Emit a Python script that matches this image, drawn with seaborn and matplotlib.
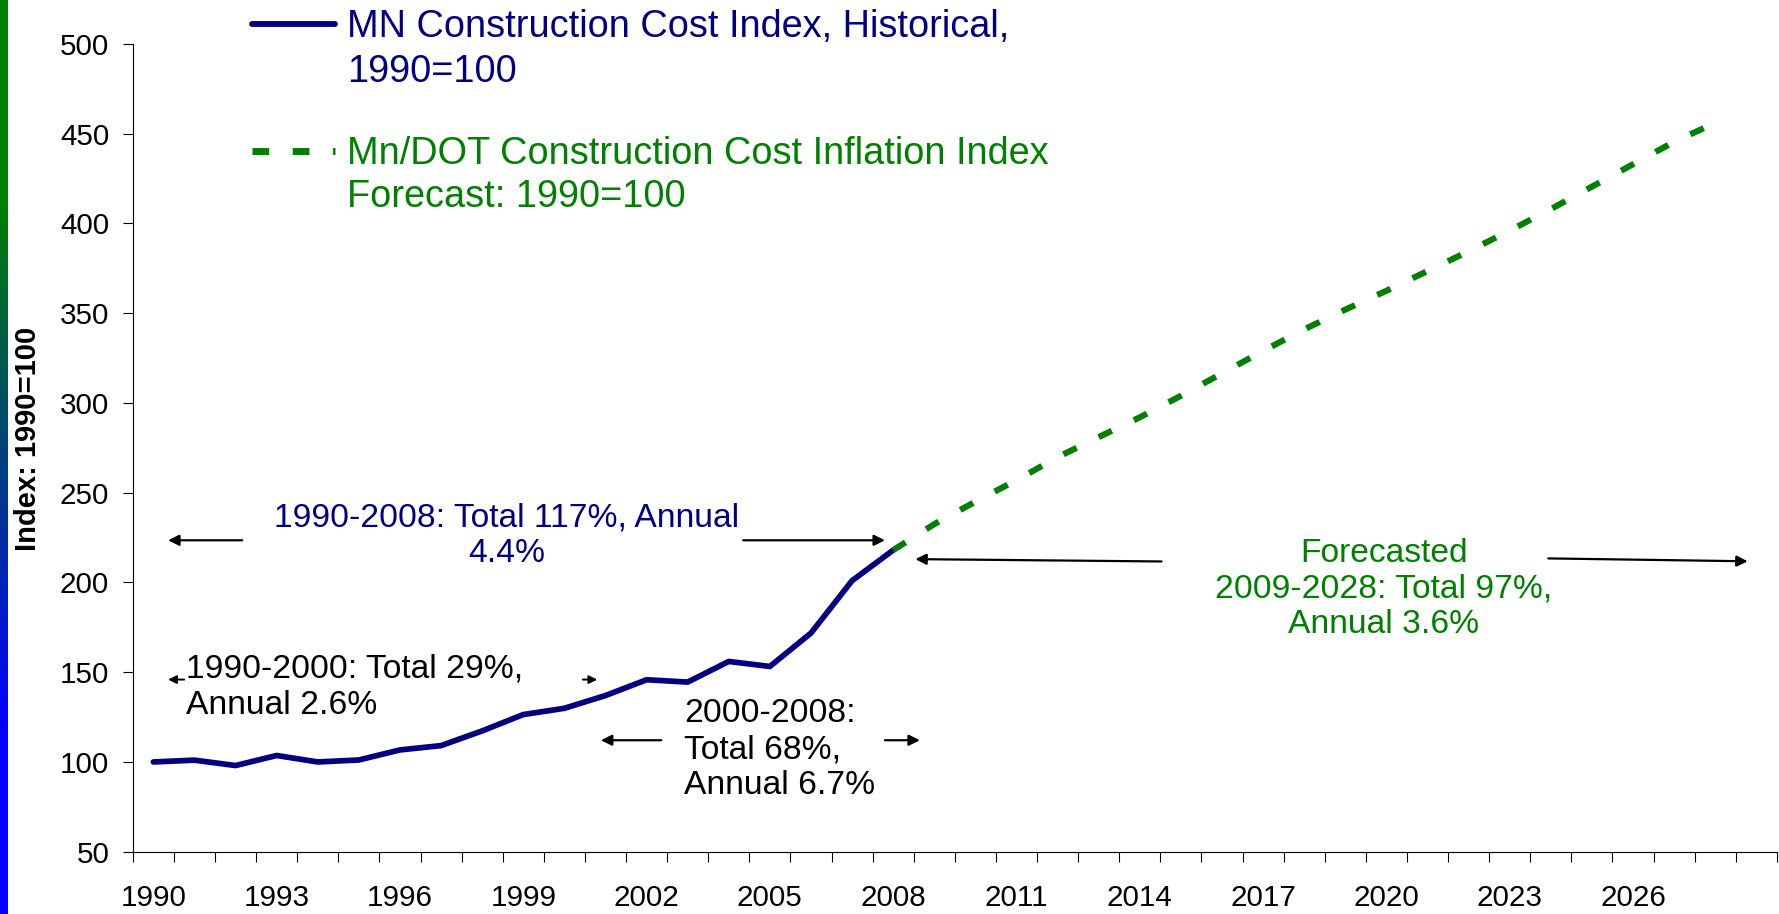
import numpy as np
import pandas as pd
import matplotlib
matplotlib.use("Agg")
import matplotlib.pyplot as plt
import seaborn as sns

# historical MN construction cost index (1990=100)
hist_years = list(range(1990, 2009))
hist_values = [100, 101, 98, 103.6, 100, 101.1, 106.7, 109.1, 117.3, 126.4,
               129.9, 137, 145.8, 144.5, 156, 153.2, 171.8, 201, 218]

# Mn/DOT forecast (1990=100)
fc_years = list(range(2008, 2029))
fc_values = [218, 232.5, 245, 257, 269.8, 281, 292, 304, 316.5, 329, 341,
             352, 362.5, 373.5, 384.5, 396, 408, 420.5, 433, 445.5, 456]

label_years = list(range(1990, 2027, 3))
y_ticks = list(range(50, 501, 50))

navy = "#000080"
green = "#008000"

sns.set_style("white")
plt.rcParams["font.family"] = ["Liberation Sans", "DejaVu Sans"]
plt.rcParams.update({"text.color": "black", "axes.labelcolor": "black",
                     "xtick.color": "black", "ytick.color": "black"})

W, H = 1779, 914
fig = plt.figure(figsize=(W / 100, H / 100), dpi=100)
ax = fig.add_axes([132.8 / W, 62.3 / H, 1644 / W, 807.7 / H])

hist = pd.DataFrame({"year": hist_years, "index": hist_values})
fc = pd.DataFrame({"year": fc_years, "index": fc_values})

sns.lineplot(data=hist, x="year", y="index", color=navy, lw=4.1, ax=ax,
             solid_joinstyle="round", solid_capstyle="round")
sns.lineplot(data=fc, x="year", y="index", color=green, lw=4.4, ax=ax)
ax.lines[-1].set_linestyle((0, (2.4, 4.0)))
ax.lines[-1].set_dash_capstyle("butt")

ax.set_xlim(1989.5, 2029.5)
ax.set_ylim(50, 500)
ax.set_yticks(y_ticks)
ax.set_xticks(np.arange(1989.5, 2030, 1.0))
ax.set_xticklabels([])
ax.set_xticks(label_years, minor=True)
ax.set_xticklabels([str(y) for y in label_years], minor=True)
ax.tick_params(axis="x", which="major", direction="out", length=7, width=0.8,
               color="black", bottom=True)
ax.tick_params(axis="x", which="minor", length=0, pad=23, labelsize=21.3)
ax.tick_params(axis="y", direction="out", length=7, width=0.8, color="black",
               left=True, pad=10, labelsize=21.3)
for s in ["top", "right"]:
    ax.spines[s].set_visible(False)
for s in ["left", "bottom"]:
    ax.spines[s].set_color("black")
    ax.spines[s].set_linewidth(0.8)
ax.set_xlabel("")
ax.set_ylabel("Index: 1990=100", fontsize=21, fontweight="bold", va="center",
              color="black")
ax.yaxis.set_label_coords(-0.0637, 0.511)

fs = 24.2
arrow = dict(arrowstyle="-|>", color="black", lw=1.6, mutation_scale=16,
             shrinkA=0, shrinkB=0)

# 1990-2008 span
ax.text(1998.6, 226.1, "1990-2008: Total 117%, Annual\n4.4%", color=navy,
        fontsize=fs, ha="center", va="center", multialignment="center")
ax.annotate("", xy=(1990.36, 223.5), xytext=(1992.16, 223.5), arrowprops=arrow)
ax.annotate("", xy=(2007.8, 223.5), xytext=(2004.35, 223.5), arrowprops=arrow)

# forecast span
ax.text(2019.94, 196.3, "Forecasted\n2009-2028: Total 97%,\nAnnual 3.6%",
        color=green, fontsize=fs, ha="center", va="center",
        multialignment="center")
ax.annotate("", xy=(2008.54, 213), xytext=(2014.53, 211.7), arrowprops=arrow)
ax.annotate("", xy=(2028.79, 211.8), xytext=(2023.94, 213.4),
            arrowprops=arrow, annotation_clip=False)

# 1990-2000 span
small = dict(arrowstyle="-|>", color="black", lw=1.4, mutation_scale=12,
             shrinkA=0, shrinkB=0)
ax.text(1990.8, 141.7, "1990-2000: Total 29%,\nAnnual 2.6%", color="black",
        fontsize=fs, ha="left", va="center")
ax.annotate("", xy=(1990.36, 145.9), xytext=(1990.75, 145.9), arrowprops=small)
ax.annotate("", xy=(2000.8, 145.9), xytext=(2000.45, 145.9), arrowprops=small)

# 2000-2008 span
ax.text(2002.92, 106.9, "2000-2008:\nTotal 68%,\nAnnual 6.7%", color="black",
        fontsize=fs, ha="left", va="center")
ax.annotate("", xy=(2000.89, 112.1), xytext=(2002.36, 112.1), arrowprops=arrow)
ax.annotate("", xy=(2008.65, 112.1), xytext=(2007.8, 112.1), arrowprops=arrow)

# legend drawn at top
lfs = 27.3
ax.plot([1992.41, 1994.43], [511.4, 511.4], color=navy, lw=4.2,
        solid_capstyle="round", clip_on=False)
ax.text(1994.72, 504.0, "MN Construction Cost Index, Historical,",
        color=navy, fontsize=lfs, ha="left", va="baseline")
ax.text(1994.72, 478.9, "1990=100",
        color=navy, fontsize=lfs, ha="left", va="baseline")
gl, = ax.plot([1992.41, 1994.43], [440.6, 440.6], color=green, lw=5,
              clip_on=False)
gl.set_linestyle((0, (2.4, 3.4)))
gl.set_dash_capstyle("butt")
ax.text(1994.72, 433.4, "Mn/DOT Construction Cost Inflation Index",
        color=green, fontsize=lfs, ha="left", va="baseline")
ax.text(1994.72, 409.2, "Forecast: 1990=100",
        color=green, fontsize=lfs, ha="left", va="baseline")

# gradient strip on the left edge
strip = fig.add_axes([0, 0, 7 / W, 1])
rows = np.linspace(0, H, 200)
t = np.clip((rows - 198) / (729 - 198), 0, 1)
col = np.zeros((200, 1, 3))
col[:, 0, 1] = (1 - t) * 128 / 255
col[:, 0, 2] = t
strip.imshow(col, aspect="auto", interpolation="bilinear")
strip.axis("off")

fig.savefig("out.png", dpi=100)
